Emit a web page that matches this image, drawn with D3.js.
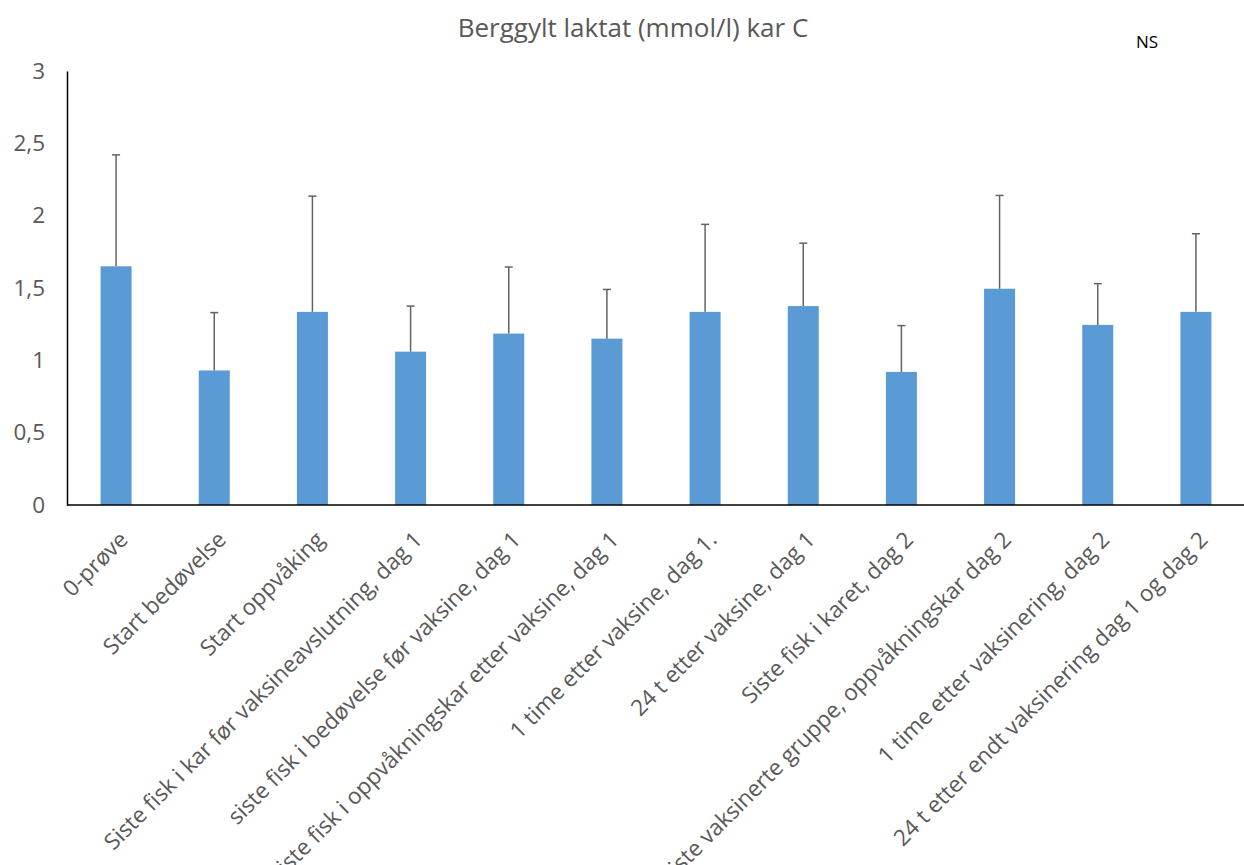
<!DOCTYPE html>
<html>
<head>
<meta charset="utf-8">
<script src="https://cdn.jsdelivr.net/npm/d3@7"></script>
<style>
  body { margin: 0; background: #fff; }
  text { font-family: "Open Sans", sans-serif; }
</style>
</head>
<body>
<div id="chart"></div>
<script>
const categories = [
  '0-prøve',
  'Start bedøvelse',
  'Start oppvåking',
  'Siste fisk i kar før vaksineavslutning, dag 1',
  'siste fisk i bedøvelse før vaksine, dag 1',
  'siste fisk i oppvåkningskar etter vaksine, dag 1',
  '1 time etter vaksine, dag 1.',
  '24 t etter vaksine, dag 1',
  'Siste fisk i karet, dag 2',
  'Siste vaksinerte gruppe, oppvåkningskar dag 2',
  '1 time etter vaksinering, dag 2',
  '24 t etter endt vaksinering dag 1 og dag 2'
];
const means = [1.65, 0.93, 1.335, 1.06, 1.185, 1.15, 1.335, 1.375, 0.92, 1.495, 1.245, 1.335];
const errUpper = [2.42, 1.33, 2.135, 1.375, 1.645, 1.49, 1.94, 1.81, 1.24, 2.14, 1.53, 1.875];
const yTicks = [0, 0.5, 1, 1.5, 2, 2.5, 3];

const width = 1244, height = 865;
const margin = {top: 71, right: 0, bottom: 360, left: 67};
const plotRight = 1245;

const svg = d3.select('#chart').append('svg')
    .attr('width', width)
    .attr('height', height);

const x = d3.scaleBand()
    .domain(categories)
    .range([margin.left, plotRight])
    .paddingInner(0.684)
    .paddingOuter(0.342);

const y = d3.scaleLinear()
    .domain([0, 3])
    .range([height - margin.bottom, margin.top]);

// title
svg.append('text')
    .attr('x', 633)
    .attr('y', 37)
    .attr('text-anchor', 'middle')
    .attr('font-size', 26)
    .attr('fill', '#595959')
    .text('Berggylt laktat (mmol/l) kar C');

svg.append('text')
    .attr('x', 1136)
    .attr('y', 48)
    .attr('font-size', 17)
    .attr('fill', '#000')
    .text('NS');

// bars
svg.selectAll('.bar')
    .data(categories)
  .join('rect')
    .attr('class', 'bar')
    .attr('x', d => x(d))
    .attr('y', (d, i) => y(means[i]))
    .attr('width', x.bandwidth())
    .attr('height', (d, i) => y(0) - y(means[i]))
    .attr('fill', '#5b9bd5');

// error bars (upper only)
const eb = svg.selectAll('.err')
    .data(categories)
  .join('g')
    .attr('class', 'err')
    .attr('stroke', '#636363')
    .attr('stroke-width', 1.5);

eb.append('line')
    .attr('x1', d => x(d) + x.bandwidth() / 2)
    .attr('x2', d => x(d) + x.bandwidth() / 2)
    .attr('y1', (d, i) => y(means[i]))
    .attr('y2', (d, i) => y(errUpper[i]));

eb.append('line')
    .attr('x1', d => x(d) + x.bandwidth() / 2 - 4)
    .attr('x2', d => x(d) + x.bandwidth() / 2 + 4)
    .attr('y1', (d, i) => y(errUpper[i]))
    .attr('y2', (d, i) => y(errUpper[i]));

// y axis
const yAxis = svg.append('g')
    .attr('transform', `translate(${margin.left},0)`)
    .call(d3.axisLeft(y).tickValues(yTicks).tickSize(0).tickPadding(22)
      .tickFormat(d => String(d).replace('.', ',')));
yAxis.select('.domain').attr('stroke', '#000').attr('stroke-width', 1.5);
yAxis.selectAll('text')
    .attr('font-size', 22.5)
    .attr('fill', '#595959')
    .attr('font-family', '"Open Sans", sans-serif');

// x axis
const xAxis = svg.append('g')
    .attr('transform', `translate(0,${y(0)})`)
    .call(d3.axisBottom(x).tickSize(0).tickSizeOuter(0));
xAxis.select('.domain')
    .attr('stroke', '#000')
    .attr('stroke-width', 1.5)
    .attr('d', `M${margin.left},0H${plotRight}`);
xAxis.selectAll('text')
    .attr('font-size', 22.5)
    .attr('fill', '#595959')
    .attr('font-family', '"Open Sans", sans-serif')
    .attr('text-anchor', 'end')
    .attr('dy', '0')
    .attr('transform', 'translate(11,34) rotate(-45)');
</script>
</body>
</html>
